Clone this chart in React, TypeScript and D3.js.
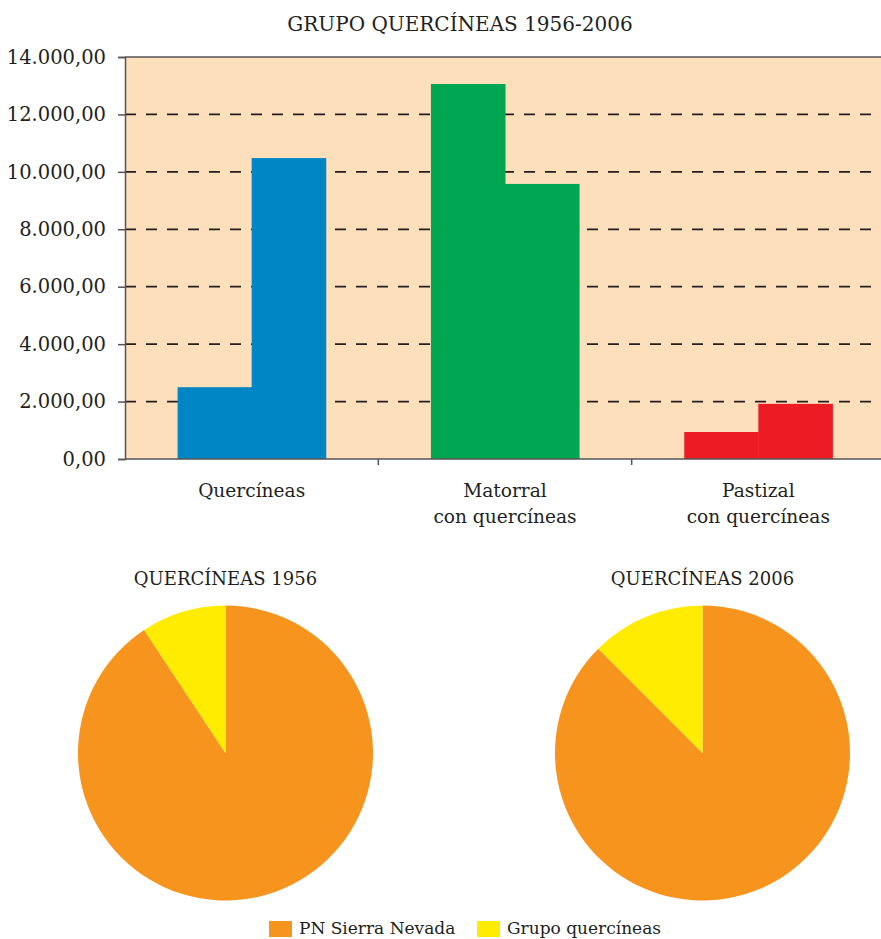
import React, { useEffect, useRef } from 'react';
import * as d3 from 'd3';

const categories = ['Quercíneas', 'Matorral\ncon quercíneas', 'Pastizal\ncon quercíneas'];
const years = ['1956', '2006'];
const values1956 = [2500, 13060, 940];
const values2006 = [10480, 9580, 1920];
const barColors = ['#0086C4', '#00A651', '#ED1C24'];
const yTicks = [0, 2000, 4000, 6000, 8000, 10000, 12000, 14000];

const pieTitles = ['QUERCÍNEAS 1956', 'QUERCÍNEAS 2006'];
const pieLabels = ['PN Sierra Nevada', 'Grupo quercíneas'];
const pie1956 = [161000, 16500];
const pie2006 = [154000, 21980];
const pieColors = ['#F7941D', '#FFEC00'];

const FONT = "DejaVu Serif";

const App: React.FC = () => {
  const ref = useRef<SVGSVGElement | null>(null);

  useEffect(() => {
    const svg = d3.select(ref.current);
    svg.selectAll('*').remove();

    const left = 125, right = 885, top = 57, bottom = 459;

    svg.append('text')
      .attr('x', 460).attr('y', 31)
      .attr('text-anchor', 'middle')
      .style('font-family', FONT).style('font-size', '20px').style('fill', '#231f20')
      .text('GRUPO QUERCÍNEAS 1956-2006');

    const x = d3.scaleBand<string>().domain(categories).range([left, right]);
    const xs = d3.scaleBand<string>().domain(years).range([0, x.bandwidth()]).paddingOuter(0.71);
    const y = d3.scaleLinear().domain([0, 14000]).range([bottom, top]);

    svg.append('rect')
      .attr('x', left).attr('y', top)
      .attr('width', right - left).attr('height', bottom - top)
      .attr('fill', '#FDDFBB');

    // dashed gridlines
    svg.append('g')
      .selectAll('line')
      .data(yTicks.filter(t => t > 0 && t < 14000))
      .enter().append('line')
      .attr('x1', left).attr('x2', right)
      .attr('y1', d => y(d)).attr('y2', d => y(d))
      .attr('stroke', '#231f20').attr('stroke-width', 1.8)
      .attr('stroke-dasharray', '11,10');

    const series = [values1956, values2006];
    categories.forEach((c, ci) => {
      years.forEach((yr, yi) => {
        const v = series[yi][ci];
        svg.append('rect')
          .attr('x', (x(c) as number) + (xs(yr) as number))
          .attr('y', y(v))
          .attr('width', xs.bandwidth() + 0.5)
          .attr('height', y(0) - y(v))
          .attr('fill', barColors[ci]);
      });
    });

    // top border
    svg.append('line')
      .attr('x1', left).attr('x2', right).attr('y1', top).attr('y2', top)
      .attr('stroke', '#555').attr('stroke-width', 1.5);

    // y axis
    const fmt = d3.formatLocale({ decimal: ',', thousands: '.', grouping: [3], currency: ['', ''] }).format(',.2f');
    const yAxis = svg.append('g')
      .attr('transform', `translate(${left},0)`)
      .call(d3.axisLeft(y).tickValues(yTicks).tickSize(7).tickPadding(12)
        .tickFormat(d => fmt(d as number)));
    yAxis.select('.domain').attr('stroke', '#555').attr('stroke-width', 1.5);
    yAxis.selectAll('line').attr('stroke', '#555').attr('stroke-width', 1.5);
    yAxis.selectAll('text')
      .style('font-family', FONT).style('font-size', '19.5px').style('fill', '#231f20');

    // x axis
    const xAxis = svg.append('g')
      .attr('transform', `translate(0,${bottom})`);
    xAxis.append('line')
      .attr('x1', left).attr('x2', right).attr('y1', 0).attr('y2', 0)
      .attr('stroke', '#555').attr('stroke-width', 1.5);
    xAxis.selectAll('line.tick')
      .data(categories.slice(1))
      .enter().append('line')
      .attr('class', 'tick')
      .attr('x1', d => x(d) as number).attr('x2', d => x(d) as number)
      .attr('y1', 0).attr('y2', 6)
      .attr('stroke', '#555').attr('stroke-width', 1.5);
    categories.forEach(c => {
      const t = xAxis.append('text')
        .attr('x', (x(c) as number) + x.bandwidth() / 2)
        .attr('y', 38)
        .attr('text-anchor', 'middle')
        .style('font-family', FONT).style('font-size', '18.6px').style('fill', '#231f20');
      c.split('\n').forEach((line, i) => {
        t.append('tspan')
          .attr('x', (x(c) as number) + x.bandwidth() / 2)
          .attr('dy', i === 0 ? 0 : 26)
          .text(line);
      });
    });

    // pies
    const pieData = [pie1956, pie2006];
    const centers = [225.5, 702.5];
    const pie = d3.pie<number>().sort(null).value(d => d);
    const arc = d3.arc<d3.PieArcDatum<number>>().innerRadius(0).outerRadius(147.5);
    pieData.forEach((pd, pi) => {
      svg.append('text')
        .attr('x', centers[pi]).attr('y', 585)
        .attr('text-anchor', 'middle')
        .style('font-family', FONT).style('font-size', '18px').style('fill', '#231f20')
        .text(pieTitles[pi]);
      const g = svg.append('g').attr('transform', `translate(${centers[pi]},753)`);
      g.selectAll('path')
        .data(pie(pd))
        .enter().append('path')
        .attr('d', arc)
        .attr('fill', (_, i) => pieColors[i]);
    });

    // legend
    const legendX = [269, 477];
    pieLabels.forEach((label, i) => {
      svg.append('rect')
        .attr('x', legendX[i]).attr('y', 921)
        .attr('width', 23).attr('height', 16)
        .attr('fill', pieColors[i]);
      svg.append('text')
        .attr('x', legendX[i] + 30).attr('y', 934)
        .style('font-family', FONT).style('font-size', '17px').style('fill', '#231f20')
        .text(label);
    });
  }, []);

  return (
    <svg ref={ref} width={881} height={939}
      style={{ position: 'absolute', left: 0, top: 0, background: '#fff' }} />
  );
};

export default App;
